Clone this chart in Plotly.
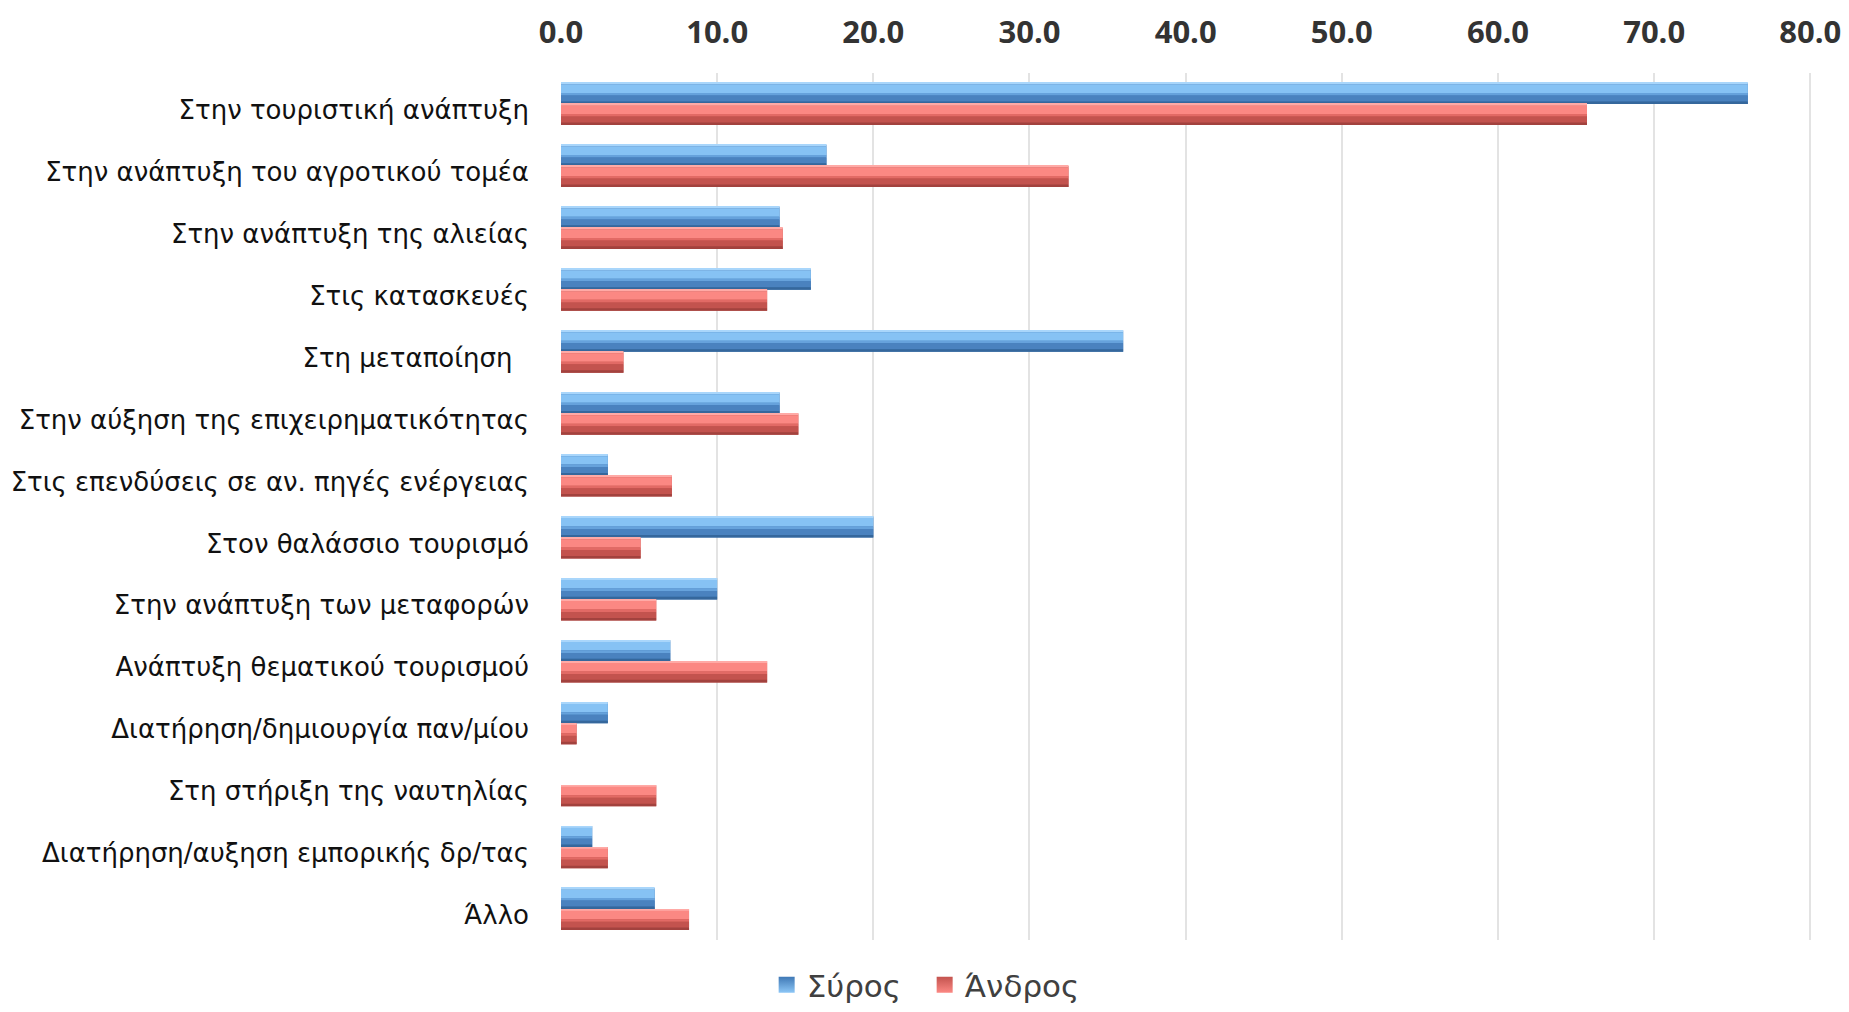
import plotly.graph_objects as go

categories = [
    "Στην τουριστική ανάπτυξη",
    "Στην ανάπτυξη του αγροτικού τομέα",
    "Στην ανάπτυξη της αλιείας",
    "Στις κατασκευές",
    "Στη μεταποίηση\u00a0\u00a0",
    "Στην αύξηση της επιχειρηματικότητας",
    "Στις επενδύσεις σε αν. πηγές ενέργειας",
    "Στον θαλάσσιο τουρισμό",
    "Στην ανάπτυξη των μεταφορών",
    "Ανάπτυξη θεματικού τουρισμού",
    "Διατήρηση/δημιουργία παν/μίου",
    "Στη στήριξη της ναυτηλίας",
    "Διατήρηση/αυξηση εμπορικής δρ/τας",
    "Άλλο",
]
syros = [76.0, 17.0, 14.0, 16.0, 36.0, 14.0, 3.0, 20.0, 10.0, 7.0, 3.0, 0.0, 2.0, 6.0]
andros = [65.7, 32.5, 14.2, 13.2, 4.0, 15.2, 7.1, 5.1, 6.1, 13.2, 1.0, 6.1, 3.0, 8.2]
series_names = ["Σύρος", "Άνδρος"]
tick_values = [0, 10, 20, 30, 40, 50, 60, 70, 80]

BAR_W = 0.34
blue_bands = [(0.0, 0.08, "#a9d6fb"), (0.08, 0.40, "#86c2f4"), (0.48, 0.12, "#66a2dc"),
              (0.60, 0.28, "#4a82bf"), (0.88, 0.12, "#35679c")]
red_bands = [(0.0, 0.08, "#ffaaa6"), (0.08, 0.40, "#fb8883"), (0.48, 0.12, "#e26a65"),
             (0.60, 0.28, "#c3534e"), (0.88, 0.12, "#a2423e")]

fig = go.Figure()

def add_series(name, values, base_offset, bands, legend_color, light_color):
    fig.add_trace(go.Bar(
        y=categories, x=values, name=name, orientation="h",
        offset=base_offset, width=BAR_W, showlegend=False, legendgroup=name,
        marker=dict(color=legend_color, line=dict(width=0)),
        hovertemplate="%{y}: %{x:.1f}<extra>" + name + "</extra>",
    ))
    for start, w, col in bands:
        fig.add_trace(go.Bar(
            y=categories, x=values, orientation="h", showlegend=False, legendgroup=name,
            offset=base_offset + start * BAR_W, width=w * BAR_W,
            marker=dict(color=col, line=dict(width=0)),
            hoverinfo="skip",
        ))
    fig.add_trace(go.Scatter(
        x=[None], y=[None], mode="markers", name=name, legendgroup=name,
        marker=dict(symbol="square", size=16, color=legend_color,
                    gradient=dict(type="vertical", color=light_color),
                    line=dict(width=0)),
        hoverinfo="skip",
    ))

add_series(series_names[0], syros, -BAR_W, blue_bands, "#3f78b5", "#8cc6f6")
add_series(series_names[1], andros, 0.0, red_bands, "#c3534e", "#fb8883")

TOP, BOTTOM_PLOT, H = 73, 940, 1012
paper_h = H - TOP
fig.update_layout(
    width=1849, height=H,
    margin=dict(l=561, r=34, t=TOP, b=0),
    paper_bgcolor="white", plot_bgcolor="white",
    barmode="overlay",
    font=dict(family="DejaVu Sans, Open Sans, sans-serif", color="#1a1a1a"),
    legend=dict(orientation="h", x=0.29, xanchor="center", y=0.0, yanchor="bottom",
                font=dict(size=31, color="#404040", family="DejaVu Sans, sans-serif"),
                traceorder="normal", itemwidth=30, entrywidth=113,
                bgcolor="rgba(0,0,0,0)"),
    showlegend=True,
)
fig.update_xaxes(
    side="top", range=[0, 80.3], tickvals=tick_values, tickformat=".1f",
    showgrid=True, gridcolor="#e3e3e3", gridwidth=2,
    zeroline=False, showline=False, ticks="",
    tickfont=dict(size=31, color="#333333", family="Open Sans, sans-serif", weight="bold"),
    ticklabelstandoff=23,
)
fig.update_yaxes(
    autorange="reversed", showgrid=False, zeroline=False, showline=False, ticks="",
    domain=[(H - BOTTOM_PLOT) / paper_h, 1],
    tickfont=dict(size=26, color="#111111", family="DejaVu Sans, sans-serif"),
    ticklabelstandoff=31, ticklabelshift=-6,
)

fig.write_html("out.html", config={"displayModeBar": False},
               post_script="document.body.style.margin='0';")
